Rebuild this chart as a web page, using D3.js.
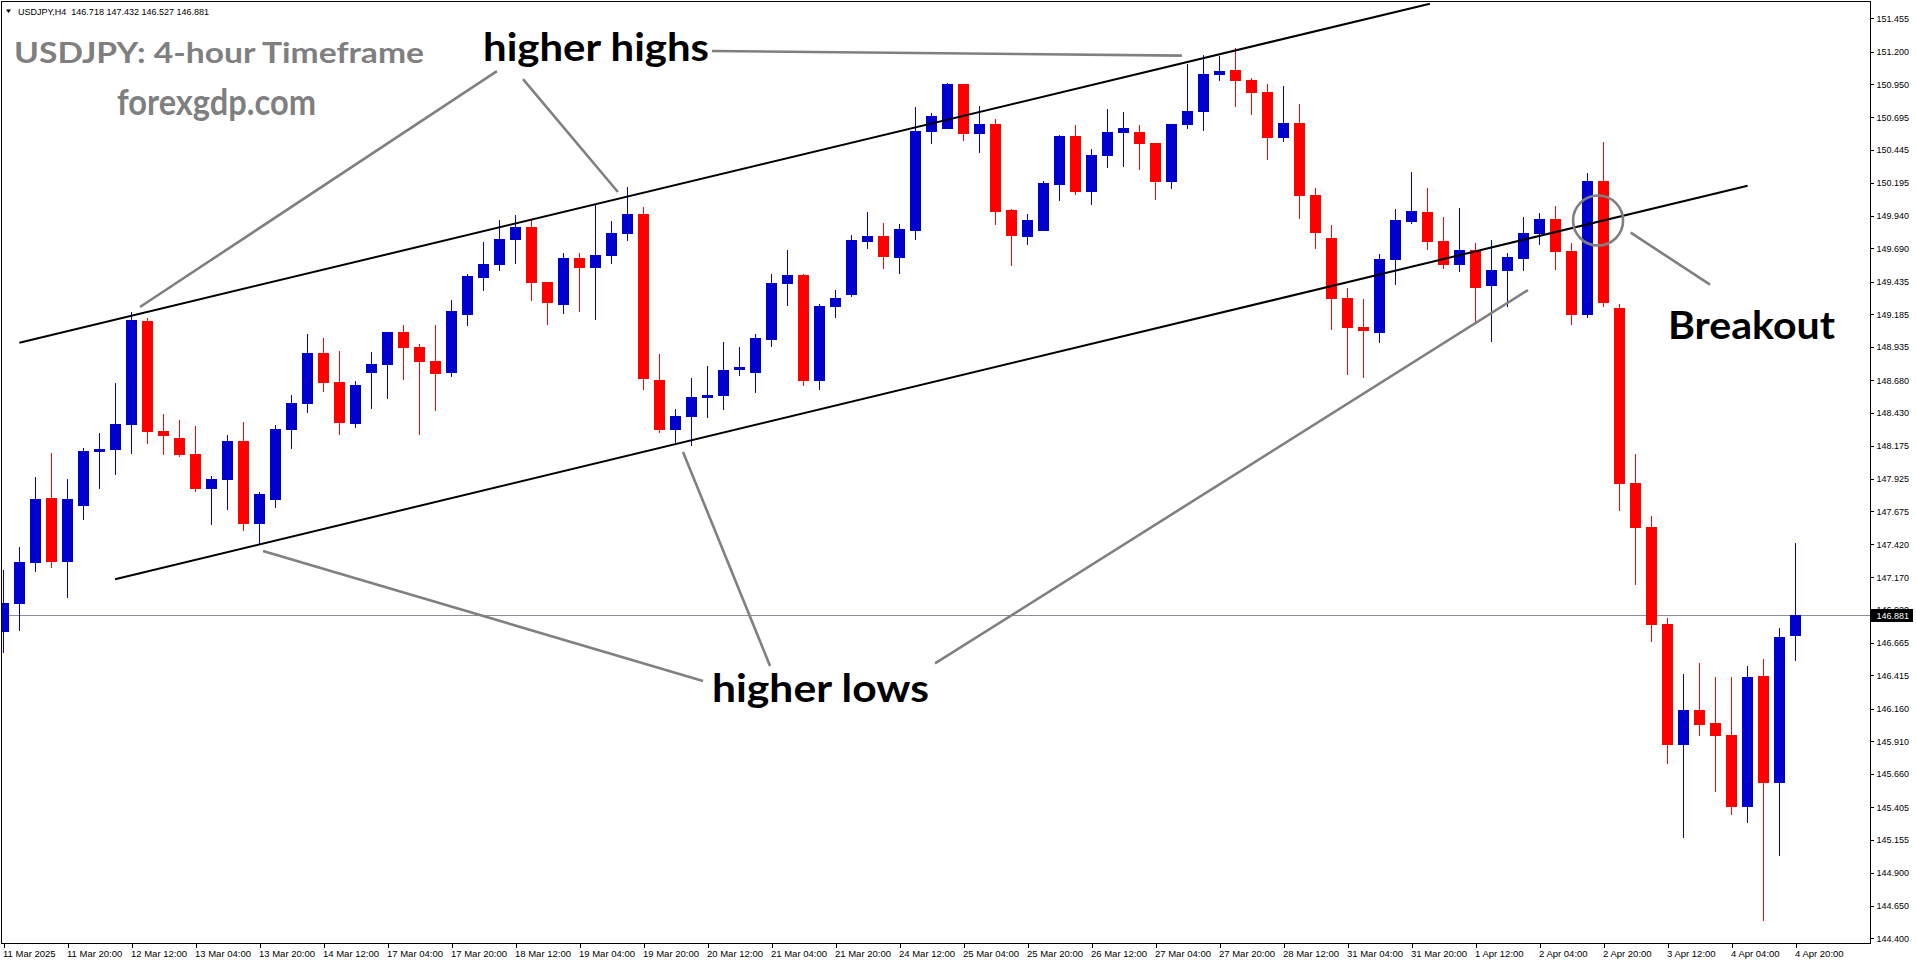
<!DOCTYPE html>
<html><head><meta charset="utf-8">
<script src="https://cdn.jsdelivr.net/npm/d3@7/dist/d3.min.js"></script>
<style>
html,body{margin:0;padding:0;background:#fff;}
svg{display:block;}
</style>
</head><body>
<svg id="chart" width="1916" height="964"></svg>
<script>
// ---------------- DATA (USDJPY H4, 11 Mar 2025 04:00 .. 4 Apr 2025 20:00) ----------------
const opens = [146.746,146.965,147.278,147.776,147.285,147.715,148.129,148.144,148.336,149.133,
148.290,148.236,148.113,147.845,147.914,148.213,147.577,147.761,148.298,148.497,
148.888,148.666,148.343,148.735,148.796,149.049,148.934,148.827,148.737,149.182,
149.465,149.565,149.757,149.854,149.432,149.258,149.616,149.542,149.634,149.803,
149.954,148.681,148.300,148.399,148.543,148.561,148.760,148.737,148.990,149.419,
149.486,148.676,149.243,149.335,149.741,149.785,149.616,149.824,150.583,150.606,
150.951,150.567,150.644,149.985,149.778,149.824,150.176,150.552,150.123,150.399,
150.575,150.583,150.498,150.199,150.636,150.736,151.020,151.058,150.982,150.889,
150.537,150.652,150.100,149.770,149.310,149.087,149.044,149.603,149.895,149.969,
149.747,149.565,149.678,149.404,149.519,149.611,149.801,149.916,149.670,149.182,
150.207,149.233,147.891,147.554,146.810,145.884,146.150,146.051,145.958,145.409,
146.411,145.593,146.718];
const highs = [147.224,147.400,147.937,148.121,147.922,148.159,148.274,148.658,149.202,149.156,
148.420,148.374,148.328,147.945,148.259,148.359,147.822,148.336,148.566,149.034,
149.003,148.903,148.673,148.896,149.049,149.103,148.957,149.103,149.294,149.494,
149.739,149.908,149.946,149.908,149.432,149.655,149.655,150.023,149.900,150.161,
150.008,148.883,148.459,148.696,148.788,148.972,148.934,149.034,149.494,149.678,
149.494,149.264,149.371,149.793,149.969,149.885,149.877,150.774,150.728,150.958,
150.951,150.782,150.682,149.992,149.954,150.207,150.560,150.636,150.452,150.759,
150.736,150.636,150.498,150.644,151.104,151.173,151.166,151.227,150.997,150.951,
150.935,150.797,150.153,149.870,149.386,149.302,149.647,149.992,150.276,150.153,
149.931,150.000,149.732,149.755,149.655,149.931,149.962,150.015,149.732,150.268,
150.506,149.264,148.116,147.638,146.856,146.426,146.511,146.403,146.403,146.488,
146.541,146.779,147.432];
const lows = [146.589,146.758,147.211,147.241,147.011,147.607,147.845,147.952,148.113,148.190,
148.106,148.090,147.822,147.569,147.684,147.523,147.416,147.699,148.152,148.428,
148.589,148.259,148.313,148.459,148.535,148.681,148.259,148.443,148.706,149.098,
149.366,149.519,149.573,149.289,149.105,149.189,149.205,149.143,149.573,149.749,
148.606,148.277,148.195,148.177,148.392,148.453,148.714,148.584,148.936,149.251,
148.637,148.606,149.159,149.320,149.688,149.532,149.494,149.755,150.491,150.606,
150.514,150.422,149.870,149.555,149.716,149.824,150.054,150.100,150.023,150.307,
150.314,150.291,150.061,150.146,150.606,150.590,150.974,150.774,150.713,150.368,
150.506,149.916,149.685,149.067,148.722,148.699,148.967,149.412,149.880,149.680,
149.534,149.511,149.128,148.975,149.243,149.519,149.718,149.527,149.105,149.159,
149.243,147.679,147.111,146.674,145.736,145.171,145.953,145.524,145.347,145.286,
144.534,145.033,146.527];
const closes = [146.968,147.285,147.768,147.285,147.768,148.136,148.152,148.343,149.141,148.282,
148.251,148.106,147.845,147.922,148.213,147.577,147.807,148.305,148.505,148.888,
148.658,148.351,148.643,148.804,149.049,148.929,148.821,148.729,149.210,149.478,
149.570,149.762,149.854,149.427,149.274,149.616,149.542,149.639,149.808,149.954,
148.691,148.300,148.405,148.551,148.566,148.758,148.781,149.003,149.425,149.486,
148.676,149.248,149.310,149.755,149.785,149.627,149.839,150.590,150.705,150.951,
150.567,150.644,149.969,149.785,149.908,150.192,150.552,150.123,150.406,150.583,
150.613,150.491,150.199,150.644,150.744,151.028,151.051,150.974,150.882,150.537,
150.652,150.092,149.808,149.304,149.082,149.059,149.609,149.908,149.977,149.741,
149.565,149.678,149.389,149.524,149.624,149.808,149.916,149.665,149.182,150.207,
149.274,147.886,147.548,146.802,145.884,146.150,146.037,145.953,145.409,146.403,
145.593,146.710,146.881];

const priceTicks = [151.455,151.200,150.950,150.695,150.445,150.195,149.940,149.690,149.435,149.185,
148.935,148.680,148.430,148.175,147.925,147.675,147.420,147.170,146.920,146.665,
146.415,146.160,145.910,145.660,145.405,145.155,144.900,144.650,144.400];

const timeTickLabels = ["11 Mar 2025","11 Mar 20:00","12 Mar 12:00","13 Mar 04:00","13 Mar 20:00",
"14 Mar 12:00","17 Mar 04:00","17 Mar 20:00","18 Mar 12:00","19 Mar 04:00","19 Mar 20:00",
"20 Mar 12:00","21 Mar 04:00","21 Mar 20:00","24 Mar 12:00","25 Mar 04:00","25 Mar 20:00",
"26 Mar 12:00","27 Mar 04:00","27 Mar 20:00","28 Mar 12:00","31 Mar 04:00","31 Mar 20:00",
"1 Apr 12:00","2 Apr 04:00","2 Apr 20:00","3 Apr 12:00","4 Apr 04:00","4 Apr 20:00"];
const barsPerTimeTick = 4;

const lastPrice = 146.881;
const headerText = "USDJPY,H4  146.718 147.432 146.527 146.881";

// annotations anchored in (bar index, price)
const channelLines = [
  [[0.99,148.967],[89.15,151.567]],
  [[6.97,147.153],[109.01,150.171]]
];
const pointerLines = [
  [[44.28,151.204],[73.65,151.169]],
  [[30.84,151.050],[8.53,149.241]],
  [[32.47,150.989],[38.40,150.123]],
  [[43.72,146.373],[16.22,147.370]],
  [[47.91,146.488],[42.47,148.129]],
  [[58.22,146.507],[95.28,149.371]],
  [[101.70,149.811],[106.66,149.412]]
];
const breakoutCircle = [99.66,149.904];
const noteTexts = [
  {text:"higher highs", at:[29.97,151.127], len:226},
  {text:"higher lows",  at:[44.28,146.215], len:217},
  {text:"Breakout",     at:[104.03,148.995], len:167}
];

// ---------------- DRAW ----------------
const svg = d3.select("#chart");
const plotL = 1.5, plotT = 1.5, plotR = 1870.5, plotB = 943.5;

const x = d3.scaleLinear().domain([0, opens.length-1]).range([3.5, 3.5 + 16*(opens.length-1)]);
const y = d3.scaleLinear().domain([144.400, 151.455]).range([938.2, 18.3]);

svg.append("rect").attr("width",1916).attr("height",964).attr("fill","#fff");

svg.append("defs").append("clipPath").attr("id","plotclip")
  .append("rect").attr("x",2).attr("y",2).attr("width",plotR-2).attr("height",plotB-2);

const plot = svg.append("g").attr("clip-path","url(#plotclip)");

// bid line
const ly = Math.round(y(lastPrice)) + 0.5;
plot.append("line").attr("x1",plotL).attr("x2",plotR).attr("y1",ly).attr("y2",ly)
  .attr("stroke","#8a8f98").attr("stroke-width",1);

const bars = opens.map((o,i)=>({i, o, h:highs[i], l:lows[i], c:closes[i]}));
const col = d => d.c >= d.o ? "#0000cc" : "#ff0000";

plot.append("g").attr("shape-rendering","crispEdges")
  .selectAll("rect").data(bars).join("rect")
  .attr("x", d => x(d.i) - 0.5).attr("width", 1)
  .attr("y", d => y(d.h)).attr("height", d => Math.max(1, y(d.l) - y(d.h)))
  .attr("fill", col);

plot.append("g").attr("shape-rendering","crispEdges")
  .selectAll("rect").data(bars).join("rect")
  .attr("x", d => x(d.i) - 5.5).attr("width", 11)
  .attr("y", d => y(Math.max(d.o,d.c)))
  .attr("height", d => Math.max(1.5, Math.abs(y(d.o) - y(d.c))))
  .attr("fill", col);

// channel lines
plot.append("g").selectAll("line").data(channelLines).join("line")
  .attr("x1", d => x(d[0][0])).attr("y1", d => y(d[0][1]))
  .attr("x2", d => x(d[1][0])).attr("y2", d => y(d[1][1]))
  .attr("stroke","#000").attr("stroke-width",2);

// pointer lines
plot.append("g").selectAll("line").data(pointerLines).join("line")
  .attr("x1", d => x(d[0][0])).attr("y1", d => y(d[0][1]))
  .attr("x2", d => x(d[1][0])).attr("y2", d => y(d[1][1]))
  .attr("stroke","#808080").attr("stroke-width",2.6);

plot.append("circle").attr("cx", x(breakoutCircle[0])).attr("cy", y(breakoutCircle[1]))
  .attr("r", 25).attr("fill","none").attr("stroke","#808080").attr("stroke-width",2.6);

plot.append("g").selectAll("text").data(noteTexts).join("text")
  .attr("x", d => x(d.at[0])).attr("y", d => y(d.at[1]))
  .attr("textLength", d => d.len).attr("lengthAdjust","spacingAndGlyphs")
  .attr("font-family","Lato, 'Open Sans', sans-serif").attr("font-weight",700)
  .attr("font-size",39).attr("fill","#000").text(d => d.text);

// frame
svg.append("rect").attr("x",plotL).attr("y",plotT).attr("width",plotR-plotL).attr("height",plotB-plotT)
  .attr("fill","none").attr("stroke","#000").attr("stroke-width",1).attr("shape-rendering","crispEdges");

// price axis
const yAxis = d3.axisRight(y).tickValues(priceTicks).tickFormat(d3.format(".3f"))
  .tickSize(3).tickPadding(3);
const ya = svg.append("g").attr("transform",`translate(${plotR},0)`).call(yAxis);
ya.select(".domain").remove();
ya.selectAll(".tick line").attr("stroke","#000").attr("shape-rendering","crispEdges");
ya.selectAll(".tick text").attr("font-family","'Liberation Sans', Arial, sans-serif")
  .attr("font-size",9).attr("fill","#000").attr("dy","0.33em");

// bid label
svg.append("rect").attr("x",plotR+0.5).attr("y",ly-6.5).attr("width",42).attr("height",13).attr("fill","#000");
svg.append("text").attr("x",plotR+6).attr("y",ly).attr("dy","0.35em")
  .attr("font-family","'Liberation Sans', Arial, sans-serif").attr("font-size",9).attr("fill","#fff")
  .text(d3.format(".3f")(lastPrice));

// time axis
const tickIdx = timeTickLabels.map((_,k)=>k*barsPerTimeTick);
const xAxis = d3.axisBottom(x).tickValues(tickIdx).tickFormat((d,k)=>timeTickLabels[k]).tickSize(4);
const xa = svg.append("g").attr("transform",`translate(0,${plotB})`).call(xAxis);
xa.select(".domain").remove();
xa.selectAll(".tick line").attr("stroke","#000").attr("shape-rendering","crispEdges");
xa.selectAll(".tick text").attr("text-anchor","start").attr("x",-1).attr("y",13).attr("dy",0)
  .attr("font-family","'Liberation Sans', Arial, sans-serif").attr("font-size",9.5).attr("fill","#000");

// header
svg.append("path").attr("d","M6,9.5 L11,9.5 L8.5,13 Z").attr("fill","#000");
svg.append("text").attr("x",18).attr("y",14.5)
  .attr("font-family","'Liberation Sans', Arial, sans-serif").attr("font-size",9).attr("fill","#000")
  .attr("xml:space","preserve").style("white-space","pre").text(headerText);

// watermark titles
svg.append("text").attr("x",14).attr("y",63.3).attr("textLength",410).attr("lengthAdjust","spacingAndGlyphs")
  .attr("font-family","Lato, sans-serif").attr("font-weight",700).attr("font-size",29).attr("fill","#7f7f7f")
  .text("USDJPY: 4-hour Timeframe");
svg.append("text").attr("x",117).attr("y",115).attr("textLength",199).attr("lengthAdjust","spacingAndGlyphs")
  .attr("font-family","Lato, sans-serif").attr("font-weight",700).attr("font-size",36).attr("fill","#7f7f7f")
  .text("forexgdp.com");
</script>
</body></html>
